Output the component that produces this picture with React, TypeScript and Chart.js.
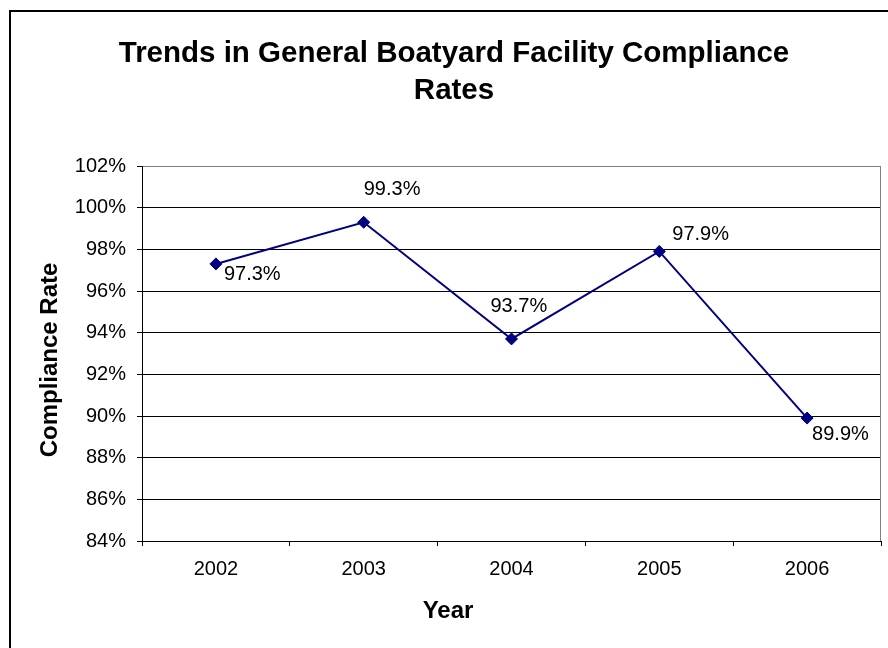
import React, { useEffect, useRef } from "react";
import { Chart, registerables } from "chart.js";

Chart.register(...registerables);

// ---- data ----
const years = ["2002", "2003", "2004", "2005", "2006"];
const complianceRates = [97.3, 99.3, 93.7, 97.9, 89.9];
const yMin = 84;
const yMax = 102;
const yStep = 2;
const titleLines = ["Trends in General Boatyard Facility Compliance", "Rates"];
const yAxisTitle = "Compliance Rate";
const xAxisTitle = "Year";

// ---- label placement (offsets of each data label from its point) ----
const LABEL_OFFSETS: [number, number][] = [
  [8, 9],
  [0, -34],
  [-21, -34],
  [13, -18],
  [5, 15],
];

const FONT = "Arial, 'Liberation Sans', sans-serif";
const LINE_COLOR = "#000080";

const decorPlugin = {
  id: "decor",
  beforeDraw(chart: any) {
    const ctx = chart.ctx as CanvasRenderingContext2D;
    ctx.save();
    ctx.fillStyle = "#ffffff";
    ctx.fillRect(0, 0, chart.width, chart.height);
    ctx.strokeStyle = "#000000";
    ctx.lineWidth = 2;
    ctx.strokeRect(10, 11, chart.width + 40, chart.height + 40);
    ctx.restore();
  },
  beforeDatasetsDraw(chart: any) {
    const ctx = chart.ctx as CanvasRenderingContext2D;
    const a = chart.chartArea;
    ctx.save();
    ctx.strokeStyle = "#808080";
    ctx.lineWidth = 1;
    ctx.beginPath();
    ctx.moveTo(Math.round(a.right) - 0.5, a.top);
    ctx.lineTo(Math.round(a.right) - 0.5, a.bottom);
    ctx.stroke();
    ctx.restore();
  },
  afterDraw(chart: any) {
    const ctx = chart.ctx as CanvasRenderingContext2D;
    ctx.save();
    ctx.fillStyle = "#000000";
    // main title
    ctx.font = `bold 29.5px ${FONT}`;
    ctx.textAlign = "center";
    ctx.textBaseline = "alphabetic";
    ctx.fillText(titleLines[0], 454, 62);
    ctx.fillText(titleLines[1], 454, 99);
    // x axis title
    ctx.font = `bold 24px ${FONT}`;
    ctx.fillText(xAxisTitle, 448, 618);
    // y axis title
    ctx.save();
    ctx.translate(57, 360);
    ctx.rotate(-Math.PI / 2);
    ctx.fillText(yAxisTitle, 0, 0);
    ctx.restore();
    // data labels
    ctx.font = `20px ${FONT}`;
    ctx.textAlign = "left";
    const meta = chart.getDatasetMeta(0);
    meta.data.forEach((pt: any, i: number) => {
      const [dx, dy] = LABEL_OFFSETS[i];
      const text = complianceRates[i].toFixed(1) + "%";
      ctx.fillText(text, pt.x + dx, pt.y + dy + 7);
    });
    ctx.restore();
  },
};

export default function App() {
  const canvasRef = useRef<HTMLCanvasElement | null>(null);

  useEffect(() => {
    const canvas = canvasRef.current;
    if (!canvas) return;
    const chart = new Chart(canvas, {
      type: "line",
      data: {
        labels: years,
        datasets: [
          {
            data: complianceRates,
            borderColor: LINE_COLOR,
            backgroundColor: LINE_COLOR,
            borderWidth: 2,
            pointStyle: "rectRot",
            pointRadius: 6,
            pointBorderWidth: 1,
            pointBackgroundColor: LINE_COLOR,
            pointBorderColor: LINE_COLOR,
            tension: 0,
            fill: false,
          },
        ],
      },
      options: {
        responsive: false,
        animation: false,
        devicePixelRatio: 1,
        layout: { padding: { top: 166, right: 6, bottom: 0, left: 0 } },
        plugins: {
          legend: { display: false },
          title: { display: false },
          tooltip: { enabled: false },
        },
        scales: {
          x: {
            type: "category",
            offset: true,
            afterFit: (scale: any) => {
              scale.height = 107;
            },
            grid: {
              offset: true,
              drawOnChartArea: false,
              color: "#000000",
              tickLength: 5,
            },
            border: { color: "#000000", width: 1 },
            ticks: {
              color: "#000000",
              font: { family: FONT, size: 20 },
              padding: 11,
              maxRotation: 0,
            },
          },
          y: {
            min: yMin,
            max: yMax,
            afterFit: (scale: any) => {
              scale.width = 142;
            },
            grid: {
              color: (c: any) => (c.tick && c.tick.value === yMax ? "#808080" : "#000000"),
              tickColor: "#000000",
              tickLength: 5,
              lineWidth: 1,
            },
            border: { color: "#000000", width: 1 },
            ticks: {
              stepSize: yStep,
              color: "#000000",
              font: { family: FONT, size: 20 },
              padding: 11,
              callback: (v: any) => `${v}%`,
            },
          },
        },
      },
      plugins: [decorPlugin],
    });
    return () => chart.destroy();
  }, []);

  return (
    <div style={{ position: "fixed", left: 0, top: 0, width: 888, height: 648, background: "#fff" }}>
      <canvas ref={canvasRef} width={888} height={648} style={{ display: "block", width: 888, height: 648 }} />
    </div>
  );
}
